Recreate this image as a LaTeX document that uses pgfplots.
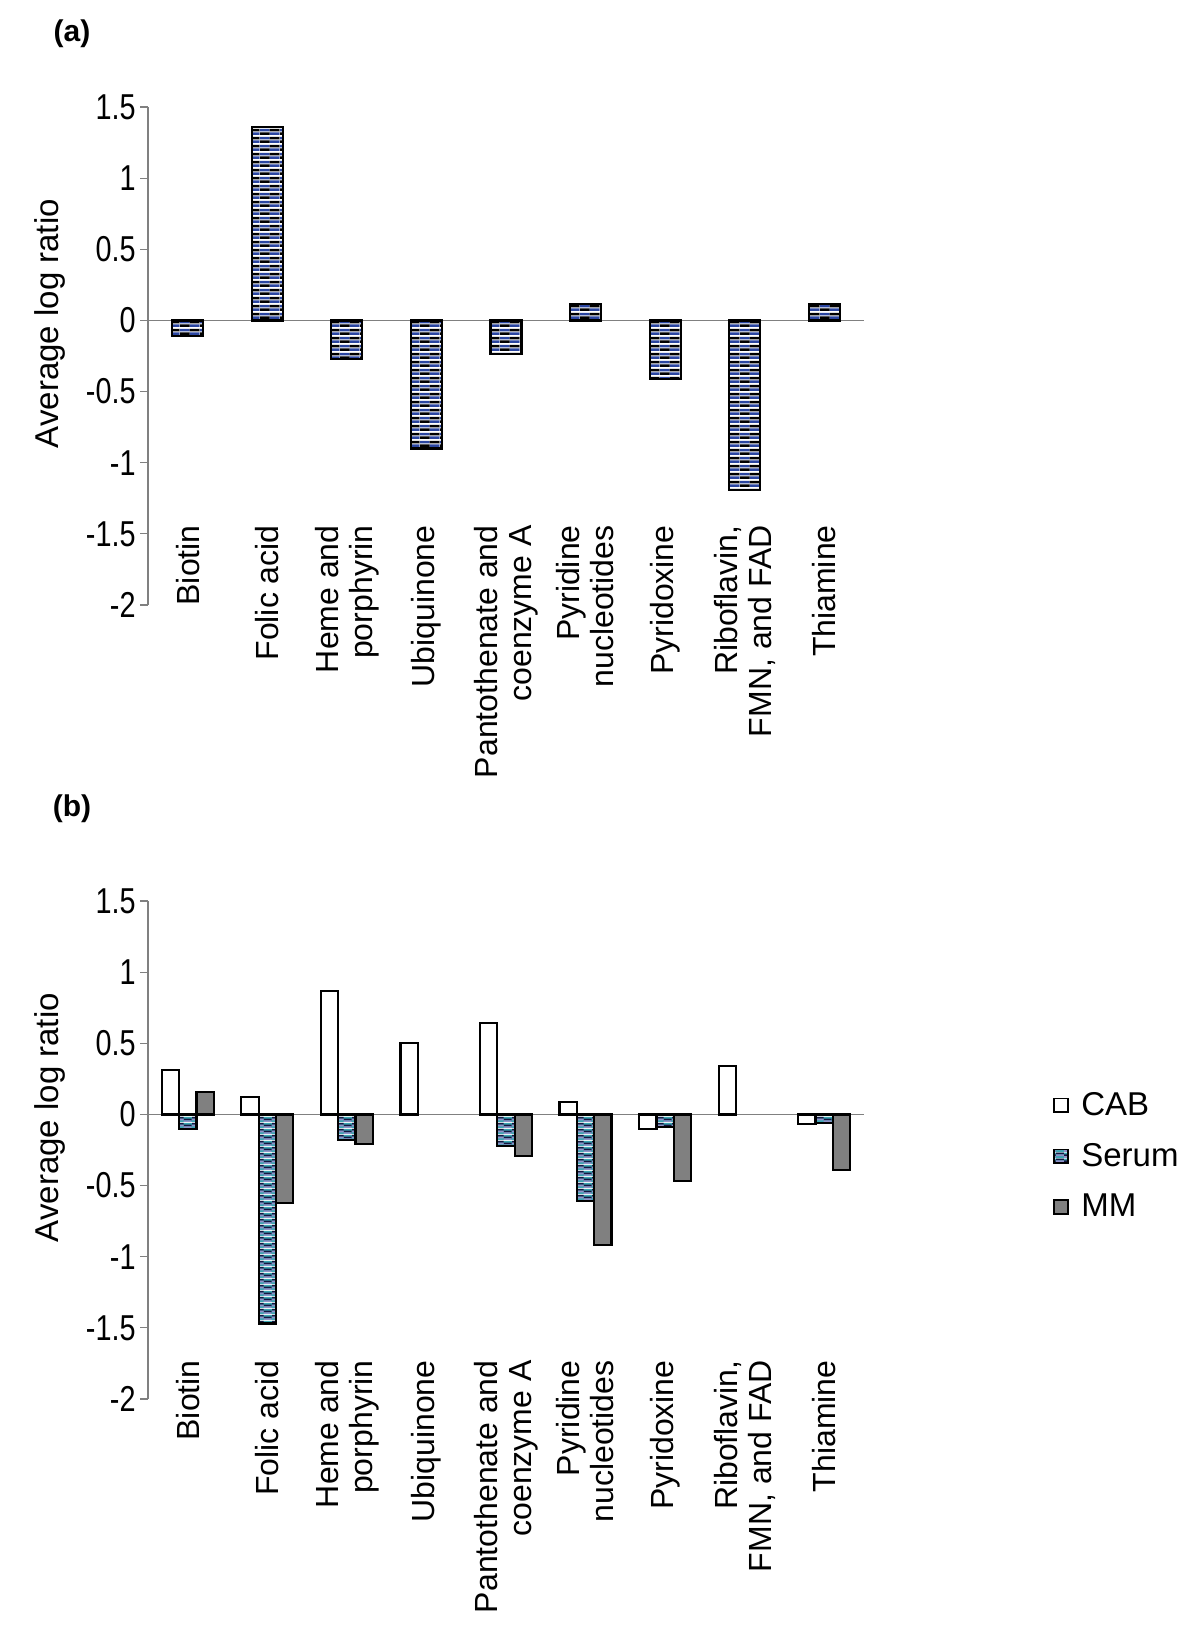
\documentclass[border=0pt]{standalone}
\usepackage{graphicx}
\usepackage{pgfplots}
\pgfplotsset{compat=1.18}
\usepackage{fontspec}
\setmainfont{Liberation Sans}
\usetikzlibrary{patterns}

\definecolor{pblue}{HTML}{2A45A0}
\definecolor{pteal}{HTML}{3AA6B2}
\definecolor{pnavy}{HTML}{15153F}
\definecolor{plav}{HTML}{9090C8}
\definecolor{mmgray}{HTML}{808080}

\pgfdeclarepatterninherentlycolored{bluebrick}
{\pgfpointorigin}{\pgfqpoint{10pt}{4pt}}
{\pgfqpoint{10pt}{4pt}}
{
\pgfsetfillcolor{white}
\pgfpathrectangle{\pgfpointorigin}{\pgfqpoint{10pt}{4pt}}\pgfusepath{fill}
\pgfsetfillcolor{pblue}
\pgfpathrectangle{\pgfqpoint{0pt}{2.6pt}}{\pgfqpoint{5pt}{1.4pt}}\pgfusepath{fill}
\pgfpathrectangle{\pgfqpoint{5pt}{0.6pt}}{\pgfqpoint{5pt}{1.4pt}}\pgfusepath{fill}
\pgfsetfillcolor{black}
\pgfpathrectangle{\pgfqpoint{5pt}{2.6pt}}{\pgfqpoint{5pt}{1.4pt}}\pgfusepath{fill}
\pgfpathrectangle{\pgfqpoint{0pt}{0.6pt}}{\pgfqpoint{5pt}{1.4pt}}\pgfusepath{fill}
}

\pgfdeclarepatterninherentlycolored{serumpat}
{\pgfpointorigin}{\pgfqpoint{8pt}{3pt}}
{\pgfqpoint{8pt}{3pt}}
{
\pgfsetfillcolor{pteal}
\pgfpathrectangle{\pgfpointorigin}{\pgfqpoint{8pt}{3pt}}\pgfusepath{fill}
\pgfsetfillcolor{pnavy}
\pgfpathrectangle{\pgfqpoint{0pt}{2pt}}{\pgfqpoint{4pt}{1pt}}\pgfusepath{fill}
\pgfpathrectangle{\pgfqpoint{4pt}{1pt}}{\pgfqpoint{4pt}{1pt}}\pgfusepath{fill}
\pgfsetfillcolor{plav}
\pgfpathrectangle{\pgfqpoint{0pt}{1pt}}{\pgfqpoint{4pt}{1pt}}\pgfusepath{fill}
\pgfpathrectangle{\pgfqpoint{4pt}{0pt}}{\pgfqpoint{4pt}{1pt}}\pgfusepath{fill}
}

\tikzset{zeroline/.style={draw=gray, line width=0.6pt}}
\newcommand{\tl}[1]{\scalebox{0.8}[1]{#1}}

\pgfplotsset{
 myaxis/.style={
  scale only axis, width=358pt, height=249pt,
  xmin=-0.5, xmax=8.5, ymin=-2, ymax=1.5,
  axis y line=left, axis x line=bottom,
  x axis line style={draw=none},
  y axis line style={draw=gray, line width=0.6pt, -},
  ytick={-2,-1.5,-1,-0.5,0,0.5,1,1.5},
  yticklabels={\tl{-2},\tl{-1.5},\tl{-1},\tl{-0.5},\tl{0},\tl{0.5},\tl{1},\tl{1.5}},
  ytick align=outside, xtick align=inside,
  ytick style={draw=gray, line width=0.6pt},
  major tick length=4pt,
  yticklabel style={font=\fontsize{18}{18}\selectfont, inner sep=1pt, xshift=-1pt},
  xtick={0,1,2,3,4,5,6,7,8}, xtick style={draw=none},
  xticklabels={Biotin, Folic acid, {Heme and\\porphyrin}, Ubiquinone, {Pantothenate and\\coenzyme A}, {Pyridine\\nucleotides}, Pyridoxine, {Riboflavin,\\FMN, and FAD}, Thiamine},
  xticklabel style={rotate=90, anchor=east, align=right, font=\fontsize{16}{17}\selectfont, inner sep=0pt},
  ylabel={Average log ratio},
  every axis y label/.style={at={(axis description cs:-0.137,0.565)}, rotate=90, anchor=center, font=\fontsize{16.5}{18}\selectfont},
 },
}

\newcommand{\zeroticks}{%
  \draw[zeroline] (axis cs:-0.5,0) -- (axis cs:8.5,0);
  \draw[zeroline] (axis cs:0.5,0) ++(0,-2pt) -- ++(0,-4pt);
  \draw[zeroline] (axis cs:1.5,0) ++(0,-2pt) -- ++(0,-4pt);
  \draw[zeroline] (axis cs:2.5,0) ++(0,-2pt) -- ++(0,-4pt);
  \draw[zeroline] (axis cs:3.5,0) ++(0,-2pt) -- ++(0,-4pt);
  \draw[zeroline] (axis cs:4.5,0) ++(0,-2pt) -- ++(0,-4pt);
  \draw[zeroline] (axis cs:5.5,0) ++(0,-2pt) -- ++(0,-4pt);
  \draw[zeroline] (axis cs:6.5,0) ++(0,-2pt) -- ++(0,-4pt);
  \draw[zeroline] (axis cs:7.5,0) ++(0,-2pt) -- ++(0,-4pt);
}

\begin{document}
\begin{tikzpicture}
\path[use as bounding box] (0,0) rectangle (600pt,816pt);

\node[font=\bfseries\fontsize{15}{15}\selectfont] at (36pt,799pt) {(a)};
\node[font=\bfseries\fontsize{15}{15}\selectfont] at (36pt,411.5pt) {(b)};

% Panel (a)
\begin{axis}[myaxis, at={(74pt,513.5pt)}, anchor=south west,
  xticklabel shift=-44pt,
  ybar, bar width=15.5pt]
\zeroticks
\addplot[draw=black, line width=1.1pt, pattern=bluebrick] coordinates {
 (0,-0.11) (1,1.36) (2,-0.27) (3,-0.90) (4,-0.235) (5,0.115) (6,-0.41) (7,-1.19) (8,0.115)};
\end{axis}

% Panel (b)
\begin{axis}[myaxis, at={(74pt,116.5pt)}, anchor=south west,
  xticklabel shift=-23.5pt,
  ybar=0pt, bar width=8.65pt,
  legend style={at={(axis description cs:1.264,0.625)}, anchor=north west, draw=none, fill=none,
    font=\fontsize{16.5}{18}\selectfont, row sep=8.5pt, inner sep=0pt, cells={anchor=west}},
  legend image code/.code={\draw[#1, line width=0.8pt] (0pt,-3.4pt) rectangle (6.8pt,3.4pt); \path (11pt,0pt);}
  ]
\zeroticks
\addplot[draw=black, line width=1.1pt, fill=white] coordinates {
 (0,0.31) (1,0.12) (2,0.87) (3,0.50) (4,0.64) (5,0.09) (6,-0.10) (7,0.34) (8,-0.07)};
\addplot[draw=black, line width=1.1pt, pattern=serumpat] coordinates {
 (0,-0.105) (1,-1.47) (2,-0.18) (4,-0.22) (5,-0.61) (6,-0.09) (8,-0.06)};
\addplot[draw=black, line width=1.1pt, fill=mmgray] coordinates {
 (0,0.16) (1,-0.625) (2,-0.21) (4,-0.29) (5,-0.915) (6,-0.47) (8,-0.39)};
\legend{CAB, Serum, MM}
\end{axis}
\end{tikzpicture}
\end{document}
